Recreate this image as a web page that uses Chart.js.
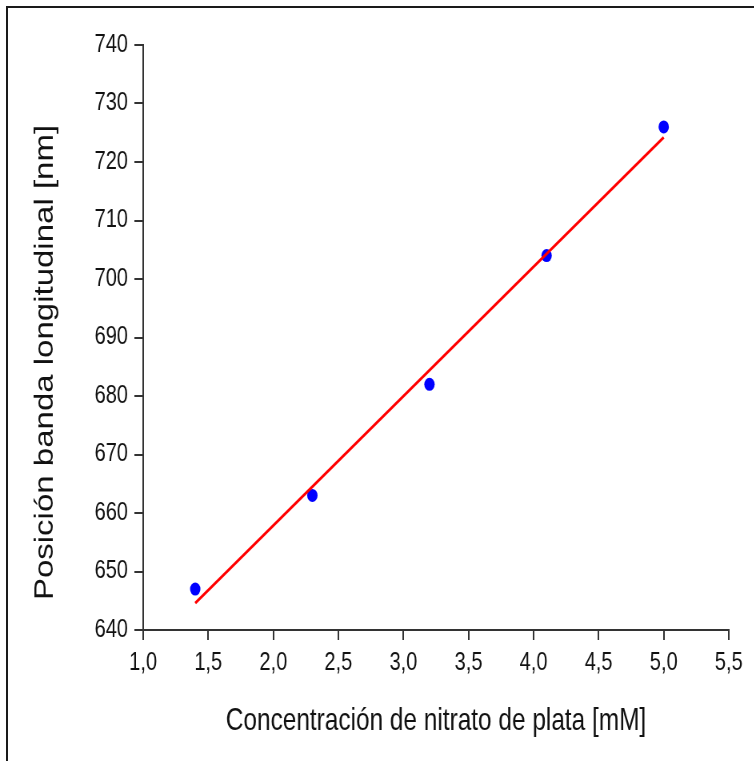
<!DOCTYPE html>
<html>
<head>
<meta charset="utf-8">
<script src="https://cdn.jsdelivr.net/npm/chart.js@4.4.1/dist/chart.umd.min.js"></script>
<style>
  html, body { margin: 0; padding: 0; background: #fff; overflow: hidden; }
  body { width: 754px; height: 761px; position: relative; }
  /* marco: solo se ven los bordes superior e izquierdo */
  #marco { position: absolute; left: 6px; top: 6px; width: 900px; height: 900px;
           border-left: 2px solid #1a1a1a; border-top: 2px solid #1a1a1a; }
  /* la figura original está comprimida en horizontal */
  #caja { position: absolute; left: 0; top: 0; width: 942px; height: 761px;
          transform: scaleX(0.8); transform-origin: 0 0; }
</style>
</head>
<body>
<div id="marco"></div>
<div id="caja"><canvas id="grafico"></canvas></div>
<script>
// Datos
const concentracion = [1.4, 2.3, 3.2, 4.1, 5.0];
const posicionBanda = [647, 663, 682, 704, 726];

// Recta de ajuste (extremos)
const ajusteX = [1.4, 5.0];
const ajusteY = [644.6, 724.2];

// Marcas de los ejes
const ticksX = [1.0, 1.5, 2.0, 2.5, 3.0, 3.5, 4.0, 4.5, 5.0, 5.5];
const ticksY = [640, 650, 660, 670, 680, 690, 700, 710, 720, 730, 740];

const tituloX = "Concentración de nitrato de plata [mM]";
const tituloY = "Posición banda longitudinal [nm]";

const FUENTE = "'Liberation Sans', Arial, sans-serif";
const COLOR_TEXTO = "#111111";
const COLOR_EJE = "#333333";

// Títulos de ejes dibujados a mano (el de Y va desplazado hacia abajo)
const titulosEjes = {
  id: "titulosEjes",
  afterDraw(chart) {
    const { ctx, chartArea } = chart;
    ctx.save();
    ctx.fillStyle = COLOR_TEXTO;
    ctx.textAlign = "center";

    ctx.font = "30.5px " + FUENTE;
    ctx.textBaseline = "alphabetic";
    ctx.fillText(tituloX, (chartArea.left + chartArea.right) / 2, chartArea.bottom + 100);

    ctx.translate(57, (chartArea.top + chartArea.bottom) / 2 + 25);
    ctx.rotate(-Math.PI / 2);
    ctx.font = "33px " + FUENTE;
    ctx.textBaseline = "middle";
    ctx.fillText(tituloY, 0, 0);
    ctx.restore();
  }
};

document.addEventListener("DOMContentLoaded", () => {
  const ctx = document.getElementById("grafico").getContext("2d");

  new Chart(ctx, {
    type: "scatter",
    data: {
      datasets: [
        {
          label: "Ajuste lineal",
          data: ajusteX.map((x, i) => ({ x, y: ajusteY[i] })),
          showLine: true,
          borderColor: "#ff0000",
          borderWidth: 3,
          pointRadius: 0,
          fill: false
        },
        {
          label: "Posición",
          data: concentracion.map((x, i) => ({ x, y: posicionBanda[i] })),
          backgroundColor: "#0000ff",
          borderColor: "#0000ff",
          borderWidth: 0,
          pointRadius: 6.5
        }
      ]
    },
    options: {
      responsive: true,
      maintainAspectRatio: false,
      animation: false,
      layout: { padding: { left: 0, top: 45, right: 31, bottom: 0 } },
      plugins: {
        legend: { display: false },
        tooltip: { enabled: false }
      },
      scales: {
        x: {
          type: "linear",
          min: 1.0,
          max: 5.5,
          afterBuildTicks: (s) => { s.ticks = ticksX.map(v => ({ value: v })); },
          afterFit: (s) => { s.height = 131; },
          border: { display: true, color: COLOR_EJE, width: 2 },
          grid: { drawOnChartArea: false, drawTicks: true, tickLength: 10, color: COLOR_EJE, lineWidth: 2 },
          ticks: {
            padding: 8,
            color: COLOR_TEXTO,
            font: { family: FUENTE, size: 25 },
            maxRotation: 0,
            autoSkip: false,
            callback: (v) => Number(v).toFixed(1).replace(".", ",")
          }
        },
        y: {
          type: "linear",
          min: 640,
          max: 740,
          afterBuildTicks: (s) => { s.ticks = ticksY.map(v => ({ value: v })); },
          afterFit: (s) => { s.width = 179; },
          border: { display: true, color: COLOR_EJE, width: 2 },
          grid: { drawOnChartArea: false, drawTicks: true, tickLength: 11, color: COLOR_EJE, lineWidth: 2 },
          ticks: {
            padding: 8,
            color: COLOR_TEXTO,
            font: { family: FUENTE, size: 25 },
            autoSkip: false
          }
        }
      }
    },
    plugins: [titulosEjes]
  });
});
</script>
</body>
</html>
